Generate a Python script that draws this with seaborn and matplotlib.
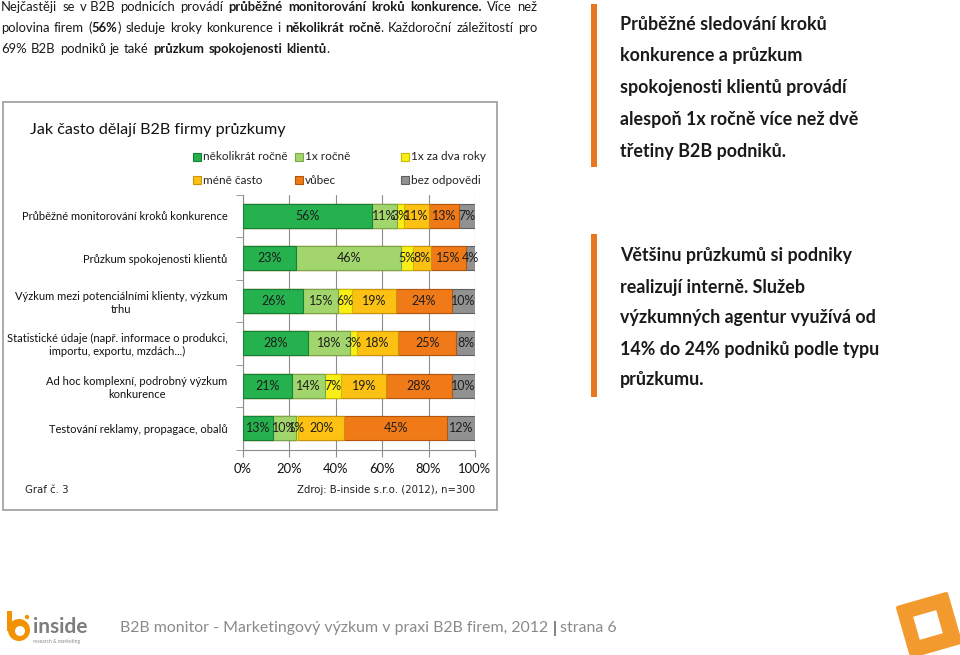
import numpy as np
import matplotlib
matplotlib.use("Agg")
import matplotlib.pyplot as plt
import seaborn as sns
from matplotlib.patches import Rectangle, Polygon, Circle

# ---------------- data ----------------
categories = [
    "Průběžné monitorování kroků konkurence",
    "Průzkum spokojenosti klientů",
    "Výzkum mezi potenciálními klienty, výzkum\ntrhu",
    "Statistické údaje (např. informace o produkci,\nimportu, exportu, mzdách...)",
    "Ad hoc komplexní, podrobný výzkum\nkonkurence",
    "Testování reklamy, propagace, obalů",
]
series = ["několikrát ročně", "1x ročně", "1x za dva roky",
          "méně často", "vůbec", "bez odpovědi"]
several_times = [56, 23, 26, 28, 21, 13]
once_a_year = [11, 46, 15, 18, 14, 10]
every_two_years = [3, 5, 6, 3, 7, 1]
less_often = [11, 8, 19, 18, 19, 20]
never = [13, 15, 24, 25, 28, 45]
no_answer = [7, 4, 10, 8, 10, 12]
x_ticks = [0, 20, 40, 60, 80, 100]

colors = ["#25B14D", "#A2D56C", "#F9EE16", "#FDC114", "#EF7A17", "#919191"]
edges = ["#15803A", "#79A84C", "#C9BC00", "#C8920A", "#B5560C", "#606060"]

W, H = 960, 655
plt.rcParams["font.family"] = ["Lato", "DejaVu Sans"]
sns.set_style("white")
plt.rcParams["font.family"] = ["Lato", "DejaVu Sans"]

fig = plt.figure(figsize=(W / 100, H / 100), dpi=100)
fig.patch.set_facecolor("white")


def fx(x):
    return x / W


def fy(y):
    return 1 - y / H


renderer = fig.canvas.get_renderer()


def text_w(txt, size, bold=False):
    t = fig.text(0, 0, txt, fontsize=size, fontweight="bold" if bold else "normal")
    w = t.get_window_extent(renderer).width
    t.remove()
    return w


# ---------------- justified paragraph ----------------
para = [
    [[("Nejčastěji", False)], [("se", False)], [("v B2B", False)], [("podnicích", False)],
     [("provádí", False)], [("průběžné", True)], [("monitorování", True)], [("kroků", True)],
     [("konkurence.", True)], [("Více", False)], [("než", False)]],
    [[("polovina", False)], [("firem", False)], [("(", False), ("56%", True), (")", False)],
     [("sleduje", False)], [("kroky", False)], [("konkurence", False)], [("i", False)],
     [("několikrát", True)], [("ročně", True), (".", False)], [("Každoroční", False)],
     [("záležitostí", False)], [("pro", False)]],
    [[("69%", False)], [("B2B", False)], [("podniků", False)], [("je", False)], [("také", False)],
     [("průzkum", True)], [("spokojenosti", True)], [("klientů", True), (".", False)]],
]
para_y = [7, 28, 49]
para_x0, para_x1 = 1, 537

base = 10.0
space_base = text_w("a a", base) - text_w("aa", base)
need = 0
for line in para[:2]:
    tot = sum(text_w(t, base, b) for word in line for t, b in word)
    need = max(need, tot + (len(line) - 1) * space_base * 1.25)
psize = min(10.0, base * (para_x1 - para_x0) / need)
space_w = text_w("a a", psize) - text_w("aa", psize)

for li, line in enumerate(para):
    objs = []
    total = 0
    for word in line:
        wobjs = []
        for txt, bold in word:
            t = fig.text(0, fy(para_y[li]), txt, fontsize=psize, va="center",
                         fontweight="bold" if bold else "normal", color="#1a1a1a")
            w = t.get_window_extent(renderer).width
            wobjs.append((t, w))
            total += w
        objs.append(wobjs)
    if li < len(para) - 1:
        gap = (para_x1 - para_x0 - total) / (len(objs) - 1)
    else:
        gap = space_w * 1.25
    x = para_x0
    for wobjs in objs:
        for t, w in wobjs:
            t.set_x(fx(x))
            x += w
        x += gap

# ---------------- chart frame ----------------
fig.patches.append(Rectangle((fx(3), fy(510)), fx(497 - 3), (510 - 102) / H,
                             transform=fig.transFigure, fill=False,
                             edgecolor="#9c9c9c", lw=1.2))
fig.text(fx(30), fy(130), "Jak často dělají B2B firmy průzkumy", fontsize=11.6,
         va="center", ha="left", color="#111111")

leg_pos = [(193, 157), (295, 157), (401, 157), (193, 180), (295, 180), (401, 180)]
for i, name in enumerate(series):
    lx, ly = leg_pos[i]
    fig.patches.append(Rectangle((fx(lx), fy(ly + 4)), fx(8), 8 / H,
                                 transform=fig.transFigure, facecolor=colors[i],
                                 edgecolor=edges[i], lw=0.8))
    fig.text(fx(lx + 10), fy(ly), name, fontsize=8.5, va="center", ha="left",
             color="#222222")

# ---------------- bars ----------------
ax = fig.add_axes([fx(243), fy(449.5), fx(232), 255 / H])
vals = np.array([several_times, once_a_year, every_two_years,
                 less_often, never, no_answer], dtype=float).T
norm = vals / vals.sum(axis=1, keepdims=True) * 100
cum = np.cumsum(norm, axis=1)
for i in reversed(range(len(series))):
    sns.barplot(x=cum[:, i], y=categories, orient="h", color=colors[i],
                saturation=1, width=0.57, edgecolor=edges[i], linewidth=0.8,
                ax=ax, zorder=3)

for r in range(len(categories)):
    for i in range(len(series)):
        c = cum[r, i] - norm[r, i] / 2
        ax.text(c, r, f"{int(vals[r, i])}%", ha="center", va="center",
                fontsize=9.0, color="#1e1e1e", zorder=5)

ax.set_xlim(0, 100)
ax.set_ylim(len(categories) - 0.5, -0.5)
ax.set_xticks(x_ticks)
ax.set_xticklabels([f"{v}%" for v in x_ticks])
ax.set_yticks(range(len(categories)))
ax.set_yticklabels(categories, multialignment="center")
ax.set_yticks(np.arange(-0.5, len(categories), 1), minor=True)
ax.set_xlabel("")
ax.set_ylabel("")
ax.grid(axis="x", color="#8c8c8c", lw=0.8, zorder=0)
ax.grid(axis="y", visible=False)
ax.set_axisbelow(True)
for s in ["top", "right"]:
    ax.spines[s].set_visible(False)
for s in ["left", "bottom"]:
    ax.spines[s].set_visible(True)
    ax.spines[s].set_color("#8c8c8c")
    ax.spines[s].set_linewidth(0.8)
ax.tick_params(axis="x", direction="out", length=5, color="#8c8c8c",
               labelsize=9.4, pad=5, labelcolor="#111111", bottom=True)
ax.tick_params(axis="y", which="major", length=0, pad=11, labelsize=8.0,
               labelcolor="#111111", left=False)
ax.tick_params(axis="y", which="minor", length=5, color="#8c8c8c", left=True)
ax.set_facecolor("white")

fig.text(fx(25), fy(490), "Graf č. 3", fontsize=7.3, va="center", ha="left",
         family="DejaVu Sans", color="#222222")
fig.text(fx(475), fy(490), "Zdroj: B-inside s.r.o. (2012), n=300", fontsize=7.3,
         va="center", ha="right", family="DejaVu Sans", color="#222222")

# ---------------- right side texts ----------------
orange = "#E8771F"
block1 = ["Průběžné sledování kroků", "konkurence a průzkum",
          "spokojenosti klientů provádí", "alespoň 1x ročně více než dvě",
          "třetiny B2B podniků."]
block2 = ["Většinu průzkumů si podniky", "realizují interně. Služeb",
          "výzkumných agentur využívá od", "14% do 24% podniků podle typu",
          "průzkumu."]
for top, bottom, block, ys in [(4, 167, block1, [24, 55, 87, 119, 151]),
                               (234, 397, block2, [255, 287, 318, 349, 380])]:
    fig.patches.append(Rectangle((fx(591), fy(bottom)), fx(6), (bottom - top) / H,
                                 transform=fig.transFigure, facecolor=orange,
                                 edgecolor="none"))
    for line, yy in zip(block, ys):
        fig.text(fx(620), fy(yy), line, fontsize=12.9, fontweight="bold",
                 va="center", ha="left", color="#1a1a1a")

# ---------------- footer ----------------
fsize = 11.4
t_left = fig.text(fx(120), fy(628), "B2B monitor - Marketingový výzkum v praxi B2B firem, 2012 ",
                  fontsize=fsize, va="center", ha="left", color="#8a8a8a")
xr = 120 + t_left.get_window_extent(renderer).width
t_bar = fig.text(fx(xr), fy(628), "|", fontsize=fsize, va="center", ha="left",
                 color="#5e5e5e", fontweight="bold")
xr += t_bar.get_window_extent(renderer).width
fig.text(fx(xr), fy(628), " strana 6", fontsize=fsize, va="center", ha="left",
         color="#8a8a8a")

lax = fig.add_axes([0, 0, 1, 1], zorder=-1)
lax.set_xlim(0, W)
lax.set_ylim(H, 0)
lax.axis("off")
logo_orange = "#F39200"
lax.add_patch(Circle((19, 630), 11, facecolor=logo_orange, edgecolor="none"))
lax.add_patch(Circle((20, 631), 5, facecolor="white", edgecolor="none"))
lax.add_patch(Rectangle((7, 611), 5, 20, facecolor=logo_orange, edgecolor="none"))
lax.add_patch(Circle((27, 617), 2.2, facecolor=logo_orange, edgecolor="none"))
lax.text(33, 627, "inside", fontsize=15, fontweight="bold", color="#7d7d7d",
         va="center", ha="left")
lax.text(33, 642, "research & marketing", fontsize=3.6, color="#8a8a8a",
         va="center", ha="left")

ang = np.deg2rad(-16)
rot = np.array([[np.cos(ang), -np.sin(ang)], [np.sin(ang), np.cos(ang)]])
sq = np.array([[-1, -1], [1, -1], [1, 1], [-1, 1]], dtype=float)
outer = sq * 25 @ rot.T + np.array([929, 625])
inner = sq * 12 @ rot.T + np.array([928, 625])
lax.add_patch(Polygon(outer, closed=True, facecolor="#F39A2E", edgecolor="#F39A2E",
                      lw=3, joinstyle="round"))
lax.add_patch(Polygon(inner, closed=True, facecolor="white", edgecolor="none"))

fig.savefig("out.png", dpi=100, facecolor="white")
